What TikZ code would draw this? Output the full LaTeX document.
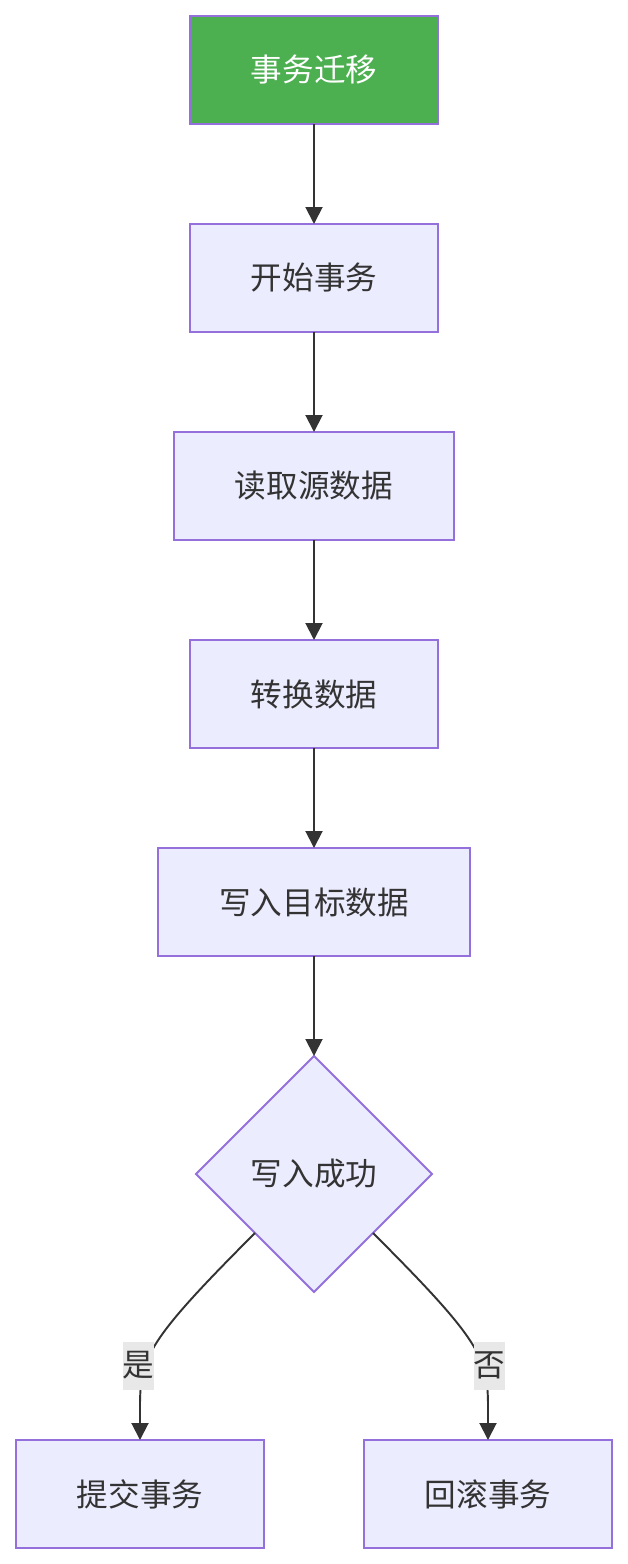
\documentclass[tikz,border=0pt]{standalone}
\usepackage{fontspec}
\setmainfont{Noto Sans CJK SC}
\usetikzlibrary{arrows.meta,positioning,calc,shapes.geometric}
\definecolor{Purple}{HTML}{9370DB}
\definecolor{Lilac}{HTML}{ECECFF}
\definecolor{Green}{HTML}{4CAF50}
\definecolor{Ink}{HTML}{333333}
\definecolor{LabelBg}{HTML}{E8E8E8}
\tikzset{
  step box/.style={draw=Purple,fill=Lilac,line width=1.1pt,outer sep=0pt,minimum width=4.96cm,
    minimum height=2.16cm,align=center,text=Ink,font=\fontsize{18}{22}\selectfont},
  start box/.style={step box,fill=Green,text=white},
  decision/.style={diamond,draw=Purple,fill=Lilac,line width=1.1pt,outer sep=0pt,minimum width=4.72cm,
    minimum height=4.72cm,inner sep=0pt,text=Ink,font=\fontsize{18}{22}\selectfont},
  edge label/.style={fill=LabelBg,text=Ink,inner xsep=0pt,inner ysep=0pt,minimum height=0.96cm,
    font=\fontsize{18}{22}\selectfont},
  arrow/.style={-{Triangle[length=0.34cm,width=0.34cm]},draw=Ink,line width=1.1pt}
}
\begin{document}
\begin{tikzpicture}[node distance=2cm]
    \useasboundingbox (0,0) rectangle (12.56,-31.28);
    \node[start box] (migrate) at (6.28,-1.4) {事务迁移};
    \node[step box,below=of migrate] (begin) {开始事务};
    \node[step box,below=of begin,minimum width=5.6cm] (read) {读取源数据};
    \node[step box,below=of read] (convert) {转换数据};
    \node[step box,below=of convert,minimum width=6.24cm] (write) {写入目标数据};
    \node[decision,below=of write] (ok) {写入成功};
    \node[step box,below=2.96cm of ok,xshift=-3.48cm] (commit) {提交事务};
    \node[step box,below=2.96cm of ok,xshift=3.48cm] (rollback) {回滚事务};
    \draw[arrow] (migrate)--(begin); \draw[arrow] (begin)--(read);
    \draw[arrow] (read)--(convert); \draw[arrow] (convert)--(write);
    \draw[arrow] (write)--(ok);
    \draw[arrow] (ok.south west) .. controls ($(ok.south west)+(-2.4,-2.4)$) and ($(commit.north)+(0,1.6)$) .. node[edge label,pos=0.59,xshift=-0.16cm] {是} (commit.north);
    \draw[arrow] (ok.south east) .. controls ($(ok.south east)+(2.4,-2.4)$) and ($(rollback.north)+(0,1.6)$) .. node[edge label,pos=0.59,xshift=0.16cm] {否} (rollback.north);
  \end{tikzpicture}
\end{document}
